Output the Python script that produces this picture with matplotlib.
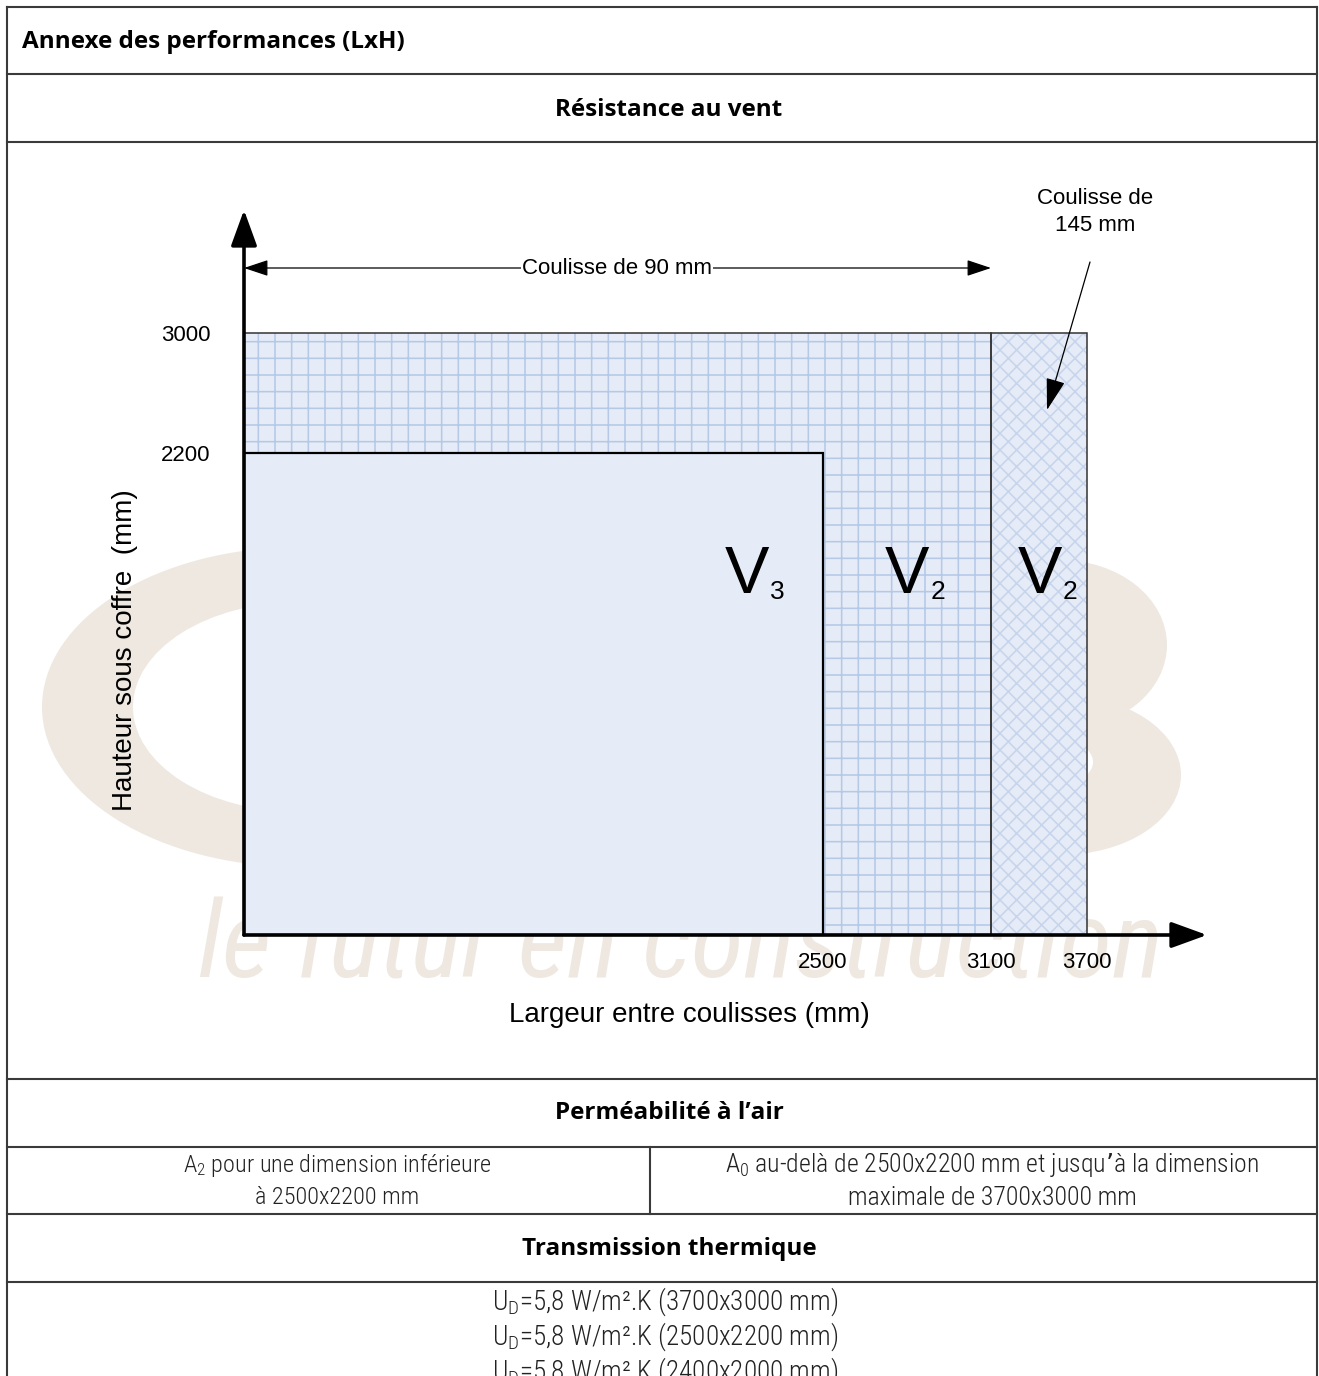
import numpy as np
import matplotlib
matplotlib.use("Agg")
import matplotlib.pyplot as plt
from matplotlib import font_manager
from matplotlib.patches import Ellipse

# zones de résistance au vent (largeur x hauteur en mm)
zone_left = [0, 0, 3100]
zone_right = [2500, 3100, 3700]
zone_top = [2200, 3000, 3000]
zone_class = ["3", "2", "2"]
zone_hatch = ["", "+", "xx"]

x_ticks = [2500, 3100, 3700]
y_ticks = [2200, 3000]
coulisse_90 = [0, 3100]

perm_left = ["$\\mathregular{A_2}$ pour une dimension inférieure", "à 2500x2200 mm"]
perm_right = ["$\\mathregular{A_0}$ au-delà de 2500x2200 mm et jusqu’à la dimension",
              "maximale de 3700x3000 mm"]
thermal_ud = [5.8, 5.8, 5.8]
thermal_dims = ["3700x3000", "2500x2200", "2400x2000"]

# schematic (non linear) scale: mm -> pixels inside the chart axes
x_knots_mm = [0, 2500, 3100, 3700, 4500]
x_knots_px = [0, 579, 747, 843, 963]
y_knots_mm = [0, 2200, 3000, 3800]
y_knots_px = [0, 482, 602, 725]

W, H = 1319, 1376
plt.rcParams["font.family"] = "Liberation Sans"
plt.rcParams["hatch.linewidth"] = 1.15

fonts = font_manager.fontManager.ttflist
available = {f.name for f in fonts}
bold_families = {f.name for f in fonts if isinstance(f.weight, int) and f.weight >= 700
                 or f.weight in ("bold", "heavy", "black")}
body_family = "Roboto Condensed" if "Roboto Condensed" in available else "Roboto"
head_family = next(n for n in ["Noto Sans", "Open Sans", "Lato", "Roboto"] if n in bold_families)
head_kw = dict(family=head_family, weight="bold", fontsize=17.5, color="black")
body_kw = dict(family=body_family, weight="light", color="#222222")

fig = plt.figure(figsize=(W / 100, H / 100), dpi=100)

# background layer (watermark)
ax_bg = fig.add_axes([0, 0, 1, 1], zorder=0)
ax_bg.set_xlim(0, W)
ax_bg.set_ylim(H, 0)
ax_bg.axis("off")
wm = "#eee8e1"
ax_bg.add_patch(Ellipse((300, 707), 516, 320, color=wm, lw=0))
ax_bg.add_patch(Ellipse((300, 707), 334, 210, color="white", lw=0))
ax_bg.add_patch(Ellipse((1060, 645), 214, 170, color=wm, lw=0))
ax_bg.add_patch(Ellipse((1060, 775), 242, 160, color=wm, lw=0))
ax_bg.add_patch(Ellipse((1050, 762), 86, 50, color="white", lw=0))
wm_text = ax_bg.text(198, 977, "le futur en construction", family=body_family,
                     style="italic", fontsize=90, color=wm, ha="left", va="baseline")
renderer = fig.canvas.get_renderer()
bb = wm_text.get_window_extent(renderer)
wm_text.set_fontsize(90 * 965 / bb.width)

# chart
ax = fig.add_axes([244 / W, (H - 935) / H, 963 / W, 725 / H], zorder=1)
ax.patch.set_visible(False)
ax.set_xscale("function", functions=(lambda v: np.interp(v, x_knots_mm, x_knots_px),
                                     lambda v: np.interp(v, x_knots_px, x_knots_mm)))
ax.set_yscale("function", functions=(lambda v: np.interp(v, y_knots_mm, y_knots_px),
                                     lambda v: np.interp(v, y_knots_px, y_knots_mm)))
ax.set_xlim(0, 4500)
ax.set_ylim(0, 3800)

fill = "#e6ecf7"
hatch_colors = ["#e6ecf7", "#b5c8e6", "#c6d4ec"]
border_colors = ["black", "#333333", "#333333"]
border_lw = [1.6, 1.1, 1.1]
for i in [1, 2, 0]:
    w = zone_right[i] - zone_left[i]
    ax.bar(zone_left[i], zone_top[i], width=w, align="edge", color=fill,
           hatch=zone_hatch[i], edgecolor=hatch_colors[i], linewidth=0, zorder=2)
    ax.bar(zone_left[i], zone_top[i], width=w, align="edge", color="none",
           edgecolor=border_colors[i], linewidth=border_lw[i], zorder=3)

for s in ax.spines.values():
    s.set_visible(False)
ax.set_xticks(x_ticks, labels=[str(v) for v in x_ticks])
ax.set_yticks(y_ticks, labels=[str(v) for v in y_ticks])
ax.tick_params(axis="both", length=0, labelsize=16)
ax.tick_params(axis="x", pad=12)
ax.tick_params(axis="y", pad=24)

ax.set_xlabel("Largeur entre coulisses (mm)", fontsize=20)
ax.xaxis.set_label_coords(0.463, -0.110)
ax.xaxis.label.set_va("center")
ax.set_ylabel("Hauteur sous coffre  (mm)", fontsize=20)
ax.yaxis.set_label_coords(-0.1236, 0.393)
ax.yaxis.label.set_va("center")

axis_arrow = dict(arrowstyle="-|>,head_length=2.2,head_width=0.8", mutation_scale=10,
                  lw=2.6, color="black", shrinkA=0, shrinkB=0)
ax.annotate("", xy=(1, 0), xytext=(0, 0), xycoords="axes fraction",
            arrowprops=axis_arrow, annotation_clip=False, zorder=6)
ax.annotate("", xy=(0, 1), xytext=(0, 0), xycoords="axes fraction",
            arrowprops=axis_arrow, annotation_clip=False, zorder=6)

trans = ax.get_xaxis_transform()
ax.annotate("", xy=(coulisse_90[1], 0.92), xytext=(coulisse_90[0], 0.92),
            xycoords=trans, textcoords=trans, annotation_clip=False,
            arrowprops=dict(arrowstyle="<|-|>,head_length=1.5,head_width=0.5",
                            mutation_scale=10, lw=0.9, color="black",
                            shrinkA=0, shrinkB=0))

# overlay: table frame, headings, annotations
top = fig.add_axes([0, 0, 1, 1], zorder=2)
top.set_xlim(0, W)
top.set_ylim(H, 0)
top.axis("off")
top.patch.set_visible(False)

line_kw = dict(color="#3a3a3a", lw=1.5)
top.plot([7, 7], [7, H], **line_kw)
top.plot([1317, 1317], [7, H], **line_kw)
for y in [7, 74, 142, 1079, 1147, 1214, 1282]:
    top.plot([7, 1317], [y, y], **line_kw)
top.plot([650, 650], [1147, 1214], **line_kw)

top.text(22, 42, "Annexe des performances (LxH)", ha="left", va="center", **head_kw)
top.text(669, 110, "Résistance au vent", ha="center", va="center", **head_kw)
top.text(669, 1113, "Perméabilité à l’air", ha="center", va="center", **head_kw)
top.text(669, 1249, "Transmission thermique", ha="center", va="center", **head_kw)

for k, (a, b) in enumerate(zip(perm_left, perm_right)):
    y = 1165 + 33 * k
    top.text(337, y, a, ha="center", va="center", fontsize=17.5, **body_kw)
    top.text(992, y, b, ha="center", va="center", fontsize=18.5, **body_kw)

for k, (u, d) in enumerate(zip(thermal_ud, thermal_dims)):
    s = "$\\mathregular{U_D}$=" + f"{u:.1f}".replace(".", ",") + f" W/m².K ({d} mm)"
    top.text(665, 1302 + 35 * k, s, ha="center", va="center", fontsize=19.5, **body_kw)

top.text(617, 268, "Coulisse de 90 mm", fontsize=16, ha="center", va="center",
         bbox=dict(facecolor="white", edgecolor="none", pad=1))
top.text(1095, 212, "Coulisse de\n145 mm", fontsize=16, ha="center", va="center",
         linespacing=1.35)
top.annotate("", xy=(1047, 410), xytext=(1090, 262),
             arrowprops=dict(arrowstyle="-|>,head_length=2.0,head_width=0.6",
                             mutation_scale=10, lw=0.9, color="black",
                             shrinkA=0, shrinkB=0))

# zone labels V3 / V2 / V2
label_pos = [(725, 770), (885, 931), (1018, 1063)]
for cls, (xv, xs) in zip(zone_class, label_pos):
    top.text(xv, 593, "V", fontsize=48, ha="left", va="baseline")
    top.text(xs, 599, cls, fontsize=19, ha="left", va="baseline")

fig.savefig("out.png", dpi=100)
